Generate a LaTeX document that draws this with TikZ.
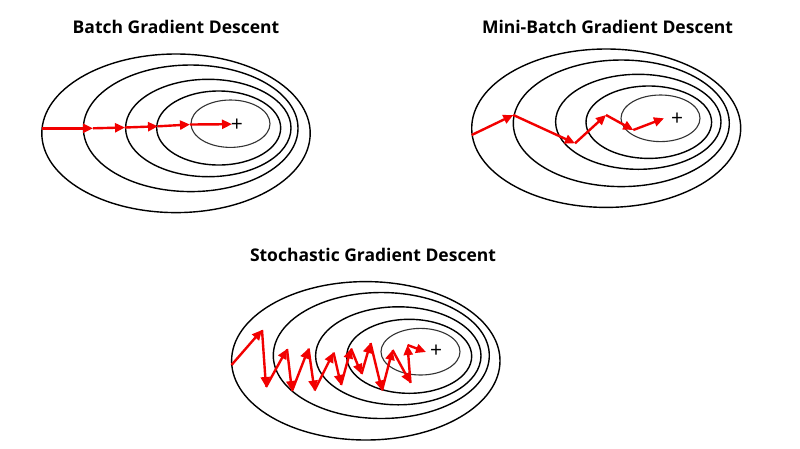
\documentclass[tikz,border=0pt]{standalone}
\usepackage{fontspec}
\setmainfont{Open Sans}
\usetikzlibrary{arrows.meta}
\begin{document}
\begin{tikzpicture}[x=1pt,y=-1pt,
  contour/.style={draw=black,line width=1.4pt},
  inner contour/.style={draw=black!80,line width=1.1pt},
  stepline/.style={draw=red!95!black,line width=2.4pt,-{Triangle[length=10pt,width=9pt]}},
  title/.style={font=\fontsize{17.5}{20}\selectfont\bfseries,inner sep=0pt},
  minimum/.style={font=\fontsize{21}{21}\selectfont,inner sep=0pt}]
\useasboundingbox (0,0) rectangle (800,448);
\fill[white] (0,0) rectangle (800,448);

% ---------- Batch ----------
\node[title] (t1) at (176,26.5) {Batch Gradient Descent};
\draw[contour] (176,133.3) ellipse [x radius=134.2, y radius=79.3];
\draw[contour] (190.7,128.3) ellipse [x radius=107.3, y radius=63.3];
\draw[contour] (208.3,128) ellipse [x radius=82.7, y radius=48.7];
\draw[contour] (218.7,128) ellipse [x radius=62, y radius=37];
\draw[inner contour] (230.5,123.7) ellipse [x radius=39.5, y radius=23.7];
\node[minimum] (m1) at (237,125.5) {+};
\coordinate (b0) at (41.7,128.3);
\coordinate (b1) at (93,128.3);
\coordinate (b2) at (125,127.5);
\coordinate (b3) at (158,126.3);
\coordinate (b4) at (190,124.5);
\coordinate (b5) at (232,124.2);
\foreach \a/\b in {b0/b1,b1/b2,b2/b3,b3/b4,b4/b5}
  \draw[stepline] (\a) -- (\b);

% ---------- Mini-batch ----------
\node[title] (t2) at (607.5,26.5) {Mini-Batch Gradient Descent};
\draw[contour] (606.2,128.2) ellipse [x radius=134.5, y radius=79.2];
\draw[contour] (621.3,123.3) ellipse [x radius=108, y radius=63.3];
\draw[contour] (638.3,121.8) ellipse [x radius=82.7, y radius=47.5];
\draw[contour] (648.8,122.2) ellipse [x radius=62.8, y radius=36.2];
\draw[inner contour] (660.5,118.3) ellipse [x radius=39.5, y radius=23.3];
\node[minimum] (m2) at (677,119) {+};
\coordinate (n0) at (471.7,135);
\coordinate (n1) at (513.3,115);
\coordinate (n2) at (575,143.3);
\coordinate (n3) at (606,115);
\coordinate (n4) at (633.3,130);
\coordinate (n5) at (664,118.3);
\foreach \a/\b in {n0/n1,n1/n2,n2/n3,n3/n4,n4/n5}
  \draw[stepline] (\a) -- (\b);

% ---------- Stochastic ----------
\node[title] (t3) at (373,255) {Stochastic Gradient Descent};
\draw[contour] (365.8,360.8) ellipse [x radius=134.2, y radius=79.2];
\draw[contour] (381.3,355.5) ellipse [x radius=108, y radius=63];
\draw[contour] (398.3,355.8) ellipse [x radius=82.7, y radius=49];
\draw[contour] (409.2,356.3) ellipse [x radius=62.5, y radius=37];
\draw[inner contour] (420.5,351.7) ellipse [x radius=39.5, y radius=23.3];
\node[minimum] (m3) at (436,351) {+};
\coordinate (s0) at (231.5,365);
\coordinate (s1) at (262,330);
\coordinate (s2) at (266,387);
\coordinate (s3) at (287,349);
\coordinate (s4) at (292,391);
\coordinate (s5) at (308.5,348.5);
\coordinate (s6) at (314.5,390.5);
\coordinate (s7) at (333.5,352.5);
\coordinate (s8) at (341,385);
\coordinate (s9) at (351,348.5);
\coordinate (s10) at (361.5,374);
\coordinate (s11) at (370.5,343);
\coordinate (s12) at (382,390.5);
\coordinate (s13) at (392.5,350);
\coordinate (s14) at (410.5,383);
\coordinate (s15) at (407.5,345);
\coordinate (s16) at (426,352);
\foreach \i [count=\j from 1] in {0,...,15}
  \draw[stepline] (s\i) -- (s\j);
\end{tikzpicture}
\end{document}
